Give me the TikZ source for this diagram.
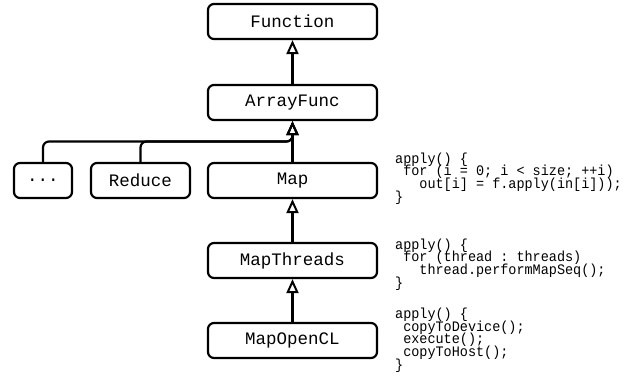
\documentclass[tikz,border=0pt]{standalone}
\usepackage{fontspec}
\setmonofont{Liberation Mono}
\usetikzlibrary{arrows.meta}
\newcommand\mycodefont{\fontsize{14.5}{12.6}\selectfont\ttfamily\lineskiplimit=-20pt\relax}
\tikzset{
  cls/.style={draw, line width=2.2pt, rounded corners=6pt, minimum height=35pt, inner sep=0pt,
    font=\fontsize{17.5}{20}\ttfamily},
  inh/.style={line width=2.2pt, -{Triangle[open, length=14pt, width=12pt, line width=2pt]}},
  code/.style={align=left, anchor=north west, inner sep=0pt, xscale=0.93,
    font=\mycodefont}
}
\begin{document}
\begin{tikzpicture}[x=1pt, y=-1pt]
\useasboundingbox (0,0) rectangle (626,377);
\node[cls, minimum width=169pt] (func) at (292.5,21.5) {Function};
\node[cls, minimum width=169pt] (arr) at (292.5,102.5) {ArrayFunc};
\node[cls, minimum width=169pt] (map) at (292.5,180.5) {Map};
\node[cls, minimum width=99pt] (red) at (140.5,180.5) {Reduce};
\node[cls, minimum width=58pt] (dots) at (43,180.5) {...};
\node[cls, minimum width=169pt] (mth) at (292.5,260.5) {MapThreads};
\node[cls, minimum width=169pt] (mcl) at (292.5,340.5) {MapOpenCL};

\draw[inh] (arr) -- (func);
\draw[inh] (map) -- (arr);
\draw[inh] (mth) -- (map);
\draw[inh] (mcl) -- (mth);
\coordinate (bus) at (0,141.5);
\draw[inh, rounded corners=6pt] (dots.north) |- (bus -| arr.south) -- (arr.south);
\draw[inh, rounded corners=6pt] (red.north) |- (bus -| arr.south) -- (arr.south);

\node[code] (c1) at (395,152.5) {apply() \{\\\ for (i = 0; i < size; ++i)\\\ \ \ out[i] = f.apply(in[i]));\\\}};
\node[code] (c2) at (395,238.5) {apply() \{\\\ for (thread : threads)\\\ \ \ thread.performMapSeq();\\\}};
\node[code] (c3) at (395,308) {apply() \{\\\ copyToDevice();\\\ execute();\\\ copyToHost();\\\}};
\end{tikzpicture}
\end{document}
